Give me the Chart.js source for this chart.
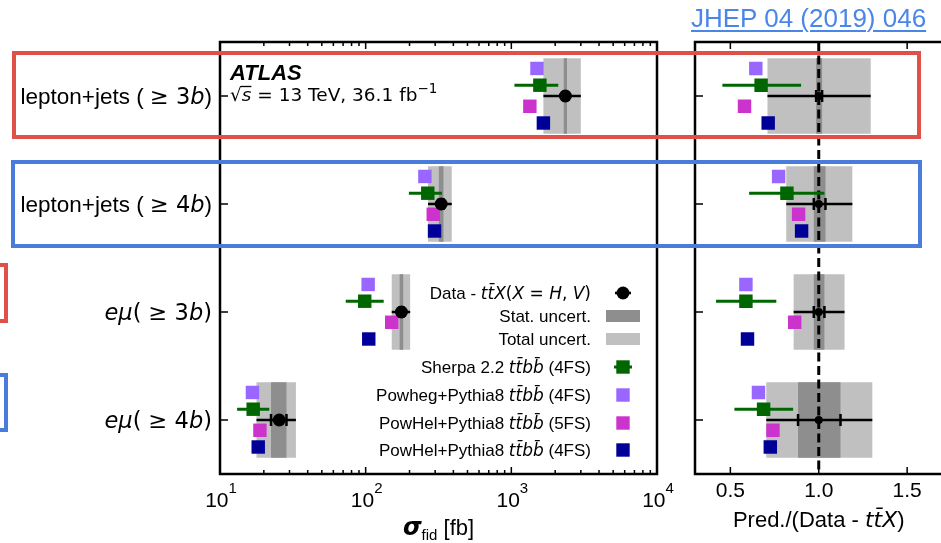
<!DOCTYPE html>
<html><head><meta charset="utf-8"><title>ttbb fiducial cross sections</title>
<script src="https://cdn.jsdelivr.net/npm/chart.js@4.4.1/dist/chart.umd.min.js"></script>
<style>
html,body{margin:0;padding:0;background:#fff;overflow:hidden;}
#wrap{position:relative;width:941px;height:543px;overflow:hidden;}
canvas{position:absolute;top:0;}
#cL{left:0;} #cR{left:680px;}
.box{position:absolute;box-sizing:border-box;border:4px solid;z-index:5;}
.red{border-color:#DF5049;} .blue{border-color:#4A7DDB;}
#link{position:absolute;left:691px;top:5px;z-index:6;font:26px "Liberation Sans",Arial,sans-serif;line-height:26px;color:#4A86E8;text-decoration:underline;text-decoration-thickness:2px;text-underline-offset:3px;white-space:nowrap;}
</style></head><body>
<div id="wrap">
<canvas id="cL" width="680" height="543"></canvas>
<canvas id="cR" width="272" height="543"></canvas>
<div class="box red" style="left:12px;top:51px;width:909px;height:88px"></div>
<div class="box blue" style="left:11px;top:160px;width:911px;height:88px"></div>
<div class="box red" style="left:-20px;top:263px;width:28px;height:60px"></div>
<div class="box blue" style="left:-20px;top:373px;width:28px;height:59px"></div>
<div id="link">JHEP 04 (2019) 046</div>
</div>
<script>
// ---------------- data ----------------
const categories = ['lepton+jets ( $≥ 3b$)', 'lepton+jets ( $≥ 4b$)', '$eμ( ≥ 3b)$', '$eμ( ≥ 4b)$'];
const rows = [0, 1, 2, 3];

// left panel: fiducial cross sections [fb]
const dataXsec    = [2350, 330, 176, 25.5];
const dataTotLo   = [1660, 268, 151, 17.8];
const dataTotHi   = [3000, 390, 202, 33.2];
const dataStatLo  = [2290, 318, 171, 22.4];
const dataStatHi  = [2410, 342, 181, 28.6];
const sherpaXsec  = [1570, 267, 98.5, 16.9];
const sherpaLo    = [1050, 198, 73, 13.1];
const sherpaHi    = [2100, 334, 133, 21.8];
const powhegXsec  = [1500, 255, 104, 16.7];
const powhel5Xsec = [1340, 291, 151, 18.8];
const powhel4Xsec = [1660, 297, 105, 18.3];

// right panel: Pred./(Data - ttX)
const dataRatio     = [1, 1, 1, 1];
const ratioTotLo    = [0.71, 0.816, 0.858, 0.703];
const ratioTotHi    = [1.294, 1.19, 1.146, 1.303];
const ratioStatLo   = [0.985, 0.972, 0.972, 0.883];
const ratioStatHi   = [1.019, 1.038, 1.032, 1.123];
const sherpaRatio   = [0.674, 0.820, 0.588, 0.688];
const sherpaRatioLo = [0.455, 0.606, 0.419, 0.523];
const sherpaRatioHi = [0.900, 1.032, 0.760, 0.855];
const powhegRatio   = [0.644, 0.773, 0.588, 0.659];
const powhel5Ratio  = [0.580, 0.886, 0.864, 0.741];
const powhel4Ratio  = [0.714, 0.903, 0.597, 0.726];
const ratioRef = 1.0;

// ticks
const xTickValsL   = [10, 100, 1000, 10000];
const xTickLabelsL = ['10^1', '10^2', '10^3', '10^4'];
const xTickValsR   = [0.5, 1.0, 1.5];
const xTickLabelsR = ['0.5', '1.0', '1.5'];

// legend
const legendLabels = ['Data - $tt̄X(X = H, V)$', 'Stat. uncert.', 'Total uncert.',
  'Sherpa 2.2 $tt̄bb̄$ (4FS)', 'Powheg+Pythia8 $tt̄bb̄$ (4FS)',
  'PowHel+Pythia8 $tt̄bb̄$ (5FS)', 'PowHel+Pythia8 $tt̄bb̄$ (4FS)'];

// ---------------- styles ----------------
const COL = {data:'#000000', stat:'#8E8E8E', total:'#C0C0C0', sherpa:'#006600',
             powheg:'#9966FF', powhel5:'#CC33CC', powhel4:'#000099'};
const OFF = {powheg:-0.255, sherpa:-0.1, powhel5:0.095, powhel4:0.25};
const Y_MIN = -0.5, Y_MAX = 3.5;
const FONT_SANS = '"Liberation Sans", Arial, Helvetica, sans-serif';
const FONT_MATH = '"DejaVu Sans", sans-serif';

function runs(str, size) {
  const out = [];
  str.split('$').forEach((p, k) => {
    if (!p) return;
    if (k % 2 === 0) { out.push({t:p, font:size + 'px ' + FONT_SANS}); return; }
    const re = /(?:\p{L}\p{M}*)+|[^\p{L}]+/gu;
    let m;
    while ((m = re.exec(p)) !== null) {
      const isL = /^\p{L}/u.test(m[0]);
      out.push({t:m[0], font:(isL ? 'italic ' : '') + size + 'px ' + FONT_MATH});
    }
  });
  return out;
}
function drawRuns(ctx, rs, x, y, align) {
  let w = 0;
  rs.forEach(r => { ctx.font = r.font; r.w = ctx.measureText(r.t).width; w += r.w; });
  let cx = align === 'right' ? x - w : (align === 'center' ? x - w / 2 : x);
  ctx.textAlign = 'left'; ctx.textBaseline = 'alphabetic';
  rs.forEach(r => {
    ctx.font = r.font; ctx.fillText(r.t, cx, y + (r.dy || 0));
    if (r.bar) { ctx.save(); ctx.lineWidth = 1.3; ctx.beginPath(); ctx.moveTo(cx - 1, y - 14.5); ctx.lineTo(cx + r.w, y - 14.5); ctx.stroke(); ctx.restore(); }
    cx += r.w;
  });
  return w;
}

function panelDatasets(P) {
  const ds = [];
  ds.push({type:'bar', label:'Total uncert.', indexAxis:'y', grouped:false, categoryPercentage:1, barPercentage:0.7,
    backgroundColor:COL.total, borderWidth:0, order:30,
    data: rows.map(i => ({x:[P.totLo[i], P.totHi[i]], y:i}))});
  ds.push({type:'bar', label:'Stat. uncert.', indexAxis:'y', grouped:false, categoryPercentage:1, barPercentage:0.7,
    backgroundColor:COL.stat, borderWidth:0, order:29,
    data: rows.map(i => ({x:[P.statLo[i], P.statHi[i]], y:i}))});
  if (P.ref !== undefined) {
    ds.push({type:'line', data:[{x:P.ref, y:Y_MIN}, {x:P.ref, y:Y_MAX}], borderColor:'#000', borderWidth:3,
      borderDash:[9, 4.5], pointRadius:0, order:25});
  }
  rows.forEach(i => ds.push({type:'line', data:[{x:P.totLo[i], y:i}, {x:P.totHi[i], y:i}],
    borderColor:'#000', borderWidth:2.5, pointRadius:0, order:20}));
  ds.push({type:'scatter', data: rows.flatMap(i => [{x:P.statLo[i], y:i}, {x:P.statHi[i], y:i}]),
    pointStyle:'line', pointRotation:90, pointRadius:6, pointBorderColor:'#000', pointBorderWidth:2.5, order:19});
  rows.forEach(i => ds.push({type:'line', data:[{x:P.shLo[i], y:i + OFF.sherpa}, {x:P.shHi[i], y:i + OFF.sherpa}],
    borderColor:COL.sherpa, borderWidth:3, pointRadius:0, order:15}));
  const sq = (vals, off, col, ord) => ({type:'scatter', data: rows.map(i => ({x:vals[i], y:i + off})),
    pointStyle:'rect', pointRadius:9.5, pointBackgroundColor:col, pointBorderWidth:0, order:ord});
  ds.push(sq(P.powheg, OFF.powheg, COL.powheg, 10));
  ds.push(sq(P.powhel5, OFF.powhel5, COL.powhel5, 10));
  ds.push(sq(P.powhel4, OFF.powhel4, COL.powhel4, 10));
  ds.push(sq(P.sherpa, OFF.sherpa, COL.sherpa, 8));
  ds.push({type:'scatter', data: rows.map(i => ({x:P.center[i], y:i})), pointStyle:'circle',
    pointRadius:P.dataR, pointBackgroundColor:'#000', pointBorderWidth:0, order:5});
  return ds;
}

function noPad(s) { s.paddingLeft = 0; s.paddingRight = 0; s.paddingTop = 0; s.paddingBottom = 0; }

function yScale(width) {
  return {type:'linear', min:Y_MIN, max:Y_MAX, reverse:true, offset:false, bounds:'data',
    grid:{display:false, drawTicks:false, offset:false}, border:{display:false},
    afterBuildTicks: s => { s.ticks = rows.map(v => ({value:v})); },
    afterFit: s => { s.width = width; noPad(s); }, ticks:{display:false}};
}
function xScale(type, min, max, vals) {
  return {type:type, min:min, max:max, bounds:'data', beginAtZero:false,
    grid:{display:false, drawTicks:false}, border:{display:false},
    afterBuildTicks: s => { s.ticks = vals.map(v => ({value:v, major:true})); },
    afterFit: s => { s.height = 69; noPad(s); },
    ticks:{display:false, autoSkip:false}};
}

function drawFrameTicks(chart, majors, minors) {
  const {ctx, chartArea:a, scales:{x, y}} = chart;
  ctx.save();
  ctx.strokeStyle = '#000';
  ctx.lineWidth = 1.5;
  ctx.beginPath();
  majors.forEach(v => { const px = x.getPixelForValue(v);
    ctx.moveTo(px, a.bottom); ctx.lineTo(px, a.bottom - 7); ctx.moveTo(px, a.top); ctx.lineTo(px, a.top + 7); });
  minors.forEach(v => { const px = x.getPixelForValue(v);
    ctx.moveTo(px, a.bottom); ctx.lineTo(px, a.bottom - 4); ctx.moveTo(px, a.top); ctx.lineTo(px, a.top + 4); });
  rows.forEach(v => { const py = y.getPixelForValue(v); ctx.moveTo(a.left, py); ctx.lineTo(a.left + 8, py); });
  ctx.stroke();
  ctx.lineWidth = 2.5;
  ctx.strokeRect(a.left, a.top, a.right - a.left, a.bottom - a.top);
  ctx.restore();
}

const minorL = [];
[10, 100, 1000].forEach(d => { for (let m = 2; m <= 9; m++) minorL.push(m * d); });

const leftDeco = {
  id:'leftDeco',
  afterDatasetsDraw(chart) { drawFrameTicks(chart, xTickValsL, minorL); },
  afterDraw(chart) {
    const {ctx, chartArea:a, scales:{x, y}} = chart;
    ctx.save();
    ctx.fillStyle = '#000'; ctx.strokeStyle = '#000';
    // x tick labels 10^n
    xTickValsL.forEach((v, k) => {
      const [base, ex] = xTickLabelsL[k].split('^');
      drawRuns(ctx, [{t:base, font:'21px ' + FONT_SANS}, {t:ex, font:'15px ' + FONT_SANS, dy:-14}],
        x.getPixelForValue(v) + 1, a.bottom + 33, 'center');
    });
    // category labels
    categories.forEach((c, i) => drawRuns(ctx, runs(c, 22.5), a.left - 8, y.getPixelForValue(i) + 8, 'right'));
    // ATLAS label
    ctx.font = 'italic bold 22px ' + FONT_SANS; ctx.textAlign = 'left'; ctx.textBaseline = 'alphabetic';
    ctx.fillText('ATLAS', a.left + 10, 80);
    drawRuns(ctx, [
      {t:'√', font:'18.5px ' + FONT_MATH},
      {t:'s', font:'italic 18.5px ' + FONT_MATH, bar:true},
      {t:' = 13 TeV, 36.1 fb', font:'18.5px ' + FONT_MATH},
      {t:'−1', font:'13.5px ' + FONT_MATH, dy:-8}], a.left + 10, 101, 'left');
    // legend
    const lyRows = [293, 316, 339, 367, 395, 423, 450];
    const tx = a.right - 66, mx = a.right - 34;
    legendLabels.forEach((lab, k) => {
      const ly = lyRows[k];
      ctx.fillStyle = '#000';
      drawRuns(ctx, runs(lab, 17), tx, ly + 6, 'right');
      if (k === 0) {
        ctx.lineWidth = 2.5; ctx.beginPath(); ctx.moveTo(mx - 8, ly); ctx.lineTo(mx + 8, ly); ctx.stroke();
        ctx.beginPath(); ctx.arc(mx, ly, 6.5, 0, Math.PI * 2); ctx.fill();
      } else if (k === 1 || k === 2) {
        ctx.fillStyle = k === 1 ? COL.stat : COL.total; ctx.fillRect(mx - 17, ly - 6, 34, 12);
      } else {
        const col = [null, null, null, COL.sherpa, COL.powheg, COL.powhel5, COL.powhel4][k];
        ctx.fillStyle = col; ctx.strokeStyle = col;
        if (k === 3) { ctx.lineWidth = 3; ctx.beginPath(); ctx.moveTo(mx - 9, ly); ctx.lineTo(mx + 9, ly); ctx.stroke(); }
        ctx.fillRect(mx - 6.7, ly - 6.7, 13.4, 13.4);
      }
    });
    // x title
    ctx.fillStyle = '#000';
    drawRuns(ctx, [
      {t:'σ', font:'italic bold 24px ' + FONT_MATH},
      {t:'fid', font:'15px ' + FONT_SANS, dy:5},
      {t:' [fb]', font:'22px ' + FONT_SANS}], (a.left + a.right) / 2, 535, 'center');
    ctx.restore();
  }
};

const rightDeco = {
  id:'rightDeco',
  afterDatasetsDraw(chart) { drawFrameTicks(chart, xTickValsR, []); },
  afterDraw(chart) {
    const {ctx, chartArea:a, scales:{x}} = chart;
    ctx.save(); ctx.fillStyle = '#000';
    ctx.font = '21px ' + FONT_SANS; ctx.textAlign = 'center'; ctx.textBaseline = 'alphabetic';
    xTickValsR.forEach((v, k) => ctx.fillText(xTickLabelsR[k], x.getPixelForValue(v), a.bottom + 23));
    drawRuns(ctx, runs('Pred./(Data - $tt̄X$)', 22), (a.left + a.right) / 2, 527, 'center');
    ctx.restore();
  }
};

Chart.defaults.color = '#000';

new Chart(document.getElementById('cL'), {
  type:'scatter',
  data:{datasets: panelDatasets({center:dataXsec, totLo:dataTotLo, totHi:dataTotHi, statLo:dataStatLo, statHi:dataStatHi,
    sherpa:sherpaXsec, shLo:sherpaLo, shHi:sherpaHi, powheg:powhegXsec, powhel5:powhel5Xsec, powhel4:powhel4Xsec, dataR:6.5})},
  options:{responsive:false, animation:false, events:[],
    layout:{padding:{top:42, right:23, left:0, bottom:0}},
    plugins:{legend:{display:false}, tooltip:{enabled:false}},
    scales:{ x: xScale('logarithmic', 10, 10000, xTickValsL), y: yScale(220) }},
  plugins:[leftDeco]
});

new Chart(document.getElementById('cR'), {
  type:'scatter',
  data:{datasets: panelDatasets({center:dataRatio, totLo:ratioTotLo, totHi:ratioTotHi, statLo:ratioStatLo, statHi:ratioStatHi,
    sherpa:sherpaRatio, shLo:sherpaRatioLo, shHi:sherpaRatioHi, powheg:powhegRatio, powhel5:powhel5Ratio, powhel4:powhel4Ratio,
    dataR:4, ref:ratioRef})},
  options:{responsive:false, animation:false, events:[],
    layout:{padding:{top:42, right:0, left:0, bottom:0}},
    plugins:{legend:{display:false}, tooltip:{enabled:false}},
    scales:{ x: xScale('linear', 0.3, 1.7, xTickValsR), y: yScale(15) }},
  plugins:[rightDeco]
});
</script>
</body></html>
